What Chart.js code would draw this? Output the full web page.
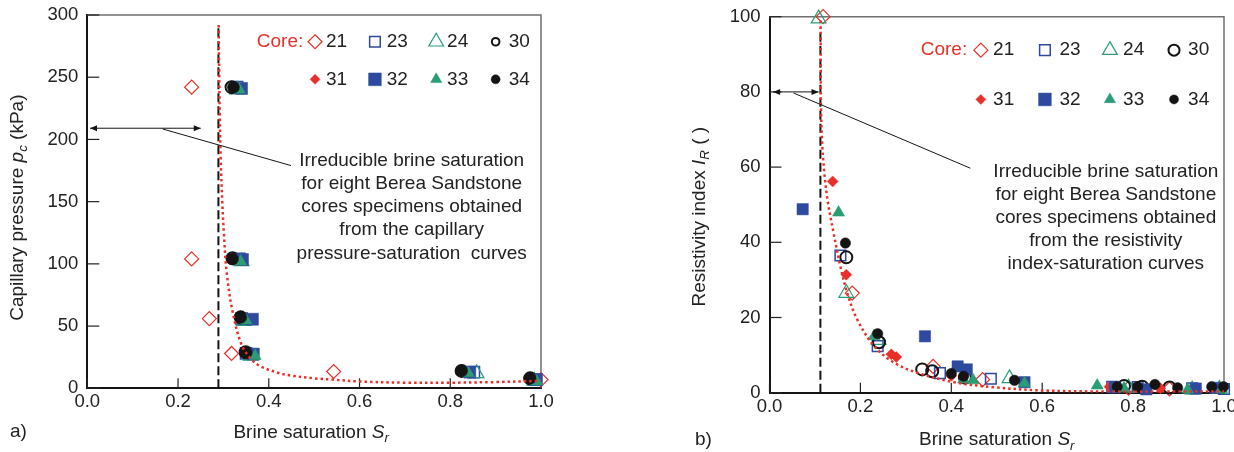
<!DOCTYPE html>
<html>
<head>
<meta charset="utf-8">
<script src="https://cdn.jsdelivr.net/npm/chart.js@4.4.1/dist/chart.umd.min.js"></script>
<style>
  html, body { margin: 0; padding: 0; background: #fff; }
  #wrap { display: flex; width: 1234px; height: 452px; }
  canvas { display: block; }
</style>
</head>
<body>
<div id="wrap">
  <canvas id="chartA" width="617" height="452"></canvas>
  <canvas id="chartB" width="617" height="452"></canvas>
</div>
<script>
// ---- data ----
const coreNames = ['21', '23', '24', '30', '31', '32', '33', '34'];

// a) capillary pressure (kPa) vs brine saturation
const pcCore21 = [[0.23, 242], [0.23, 104], [0.269, 56], [0.318, 28], [0.543, 13.5], [1.0, 7]];
const pcCore23 = [[0.33, 242], [0.335, 104], [0.34, 56], [0.35, 28], [0.852, 13], [0.985, 7]];
const pcCore24 = [[0.33, 240], [0.34, 102], [0.345, 54], [0.36, 26], [0.858, 12], [0.985, 6]];
const pcCore30 = [[0.318, 242], [0.32, 104.5], [0.338, 57], [0.349, 29], [0.825, 14], [0.976, 8]];
const pcCore31 = [[0.322, 242], [0.325, 104], [0.34, 56], [0.352, 28], [0.83, 13.5], [0.985, 7]];
const pcCore32 = [[0.34, 241], [0.342, 103.5], [0.364, 55.5], [0.366, 27.5], [0.843, 13], [0.99, 7]];
const pcCore33 = [[0.335, 240], [0.338, 102], [0.35, 54.5], [0.37, 26], [0.84, 12], [0.99, 5.5]];
const pcCore34 = [[0.322, 242], [0.32, 104], [0.338, 57], [0.35, 28.5], [0.825, 14], [0.976, 8]];
const pcFit = [[0.2895, 292], [0.2905, 260], [0.292, 220], [0.294, 185], [0.2975, 150], [0.301, 125],
  [0.307, 94], [0.32, 62], [0.34, 35], [0.36, 24], [0.38, 18], [0.42, 12.5], [0.446, 10.4], [0.5, 8],
  [0.54, 7], [0.6, 5.5], [0.7, 4.5], [0.8, 4.5], [0.9, 5], [1.0, 6]];
const pcIrreducible = [[0.289, 0], [0.289, 292]];

// b) resistivity index vs brine saturation
const riCore21 = [[0.118, 100], [0.182, 26.5], [0.36, 7], [0.469, 3.5], [0.79, 1.2], [0.88, 1.0]];
const riCore23 = [[0.156, 36.5], [0.238, 12.4], [0.375, 5.2], [0.487, 3.7], [0.754, 1.6], [0.81, 1.5], [0.93, 1.2], [1.0, 1.0]];
const riCore24 = [[0.108, 99.5], [0.169, 26.5], [0.24, 14], [0.528, 3.8], [0.79, 1.3], [0.93, 0.8], [0.99, 1.0]];
const riCore30 = [[0.169, 36], [0.241, 13.4], [0.336, 6.2], [0.358, 5.7], [0.43, 4], [0.78, 1.8], [0.82, 1.6], [0.88, 1.4]];
const riCore31 = [[0.139, 56.2], [0.169, 31.4], [0.268, 10.2], [0.279, 9.5], [0.4, 4.5], [0.748, 1.6], [0.86, 1.2], [0.93, 1.0]];
const riCore32 = [[0.073, 48.8], [0.342, 15], [0.414, 7], [0.434, 6.2], [0.561, 2.8], [0.76, 1.4], [0.829, 0.9], [0.938, 1.1], [0.98, 1.3]];
const riCore33 = [[0.152, 47.9], [0.23, 15], [0.427, 3.5], [0.448, 3.3], [0.561, 2.5], [0.721, 1.9], [0.78, 1.2], [0.92, 0.8], [0.995, 1.0]];
const riCore34 = [[0.167, 39.8], [0.238, 15.7], [0.4, 5.1], [0.427, 4.4], [0.539, 3.3], [0.765, 1.6], [0.81, 1.6], [0.848, 2.2], [0.898, 1.3], [0.973, 1.6], [0.999, 1.6]];
const riFit = [[0.1125, 99], [0.1128, 85], [0.1135, 75], [0.116, 66], [0.121, 58], [0.128, 51], [0.141, 42.5],
  [0.156, 33.6], [0.171, 26.5], [0.193, 19.5], [0.23, 12.4], [0.274, 8], [0.325, 5.3], [0.406, 2.8],
  [0.49, 1.5], [0.6, 0.6], [0.75, 0.3], [0.9, 0.3], [1.0, 0.3]];
const riIrreducible = [[0.112, 0], [0.112, 97]];

const pcNote = ['Irreducible brine saturation', 'for eight Berea Sandstone', 'cores specimens obtained',
  'from the capillary', 'pressure-saturation  curves'];
const riNote = ['Irreducible brine saturation', 'for eight Berea Sandstone', 'cores specimens obtained',
  'from the resistivity', 'index-saturation curves'];

// ---- styles ----
const FONT = '"Liberation Sans", Arial, sans-serif';
const RED = '#e8302a', BLUE = '#2e4a9e', GREEN = '#2a9d74', BLACK = '#141414', TEXT = '#222';

const markerStyle = {
  '21': { shape: 'rectRot', fill: null, stroke: RED, lw: 1.2 },
  '23': { shape: 'rect', fill: null, stroke: BLUE, lw: 1.5 },
  '24': { shape: 'triangle', fill: null, stroke: GREEN, lw: 1.2 },
  '30': { shape: 'circle', fill: null, stroke: BLACK, lw: 2 },
  '31': { shape: 'rectRot', fill: RED, stroke: RED, lw: 0.5 },
  '32': { shape: 'rect', fill: BLUE, stroke: BLUE, lw: 0.5 },
  '33': { shape: 'triangle', fill: GREEN, stroke: GREEN, lw: 0.5 },
  '34': { shape: 'circle', fill: BLACK, stroke: BLACK, lw: 0.5 }
};
const pcSizes = { '21': 7, '23': 8, '24': 8.5, '30': 6, '31': 5.5, '32': 8.5, '33': 7, '34': 6 };
const riSizes = { '21': 7, '23': 7.5, '24': 8.5, '30': 6, '31': 5.5, '32': 8, '33': 7, '34': 5.2 };
const pcLegendSizes = { '21': 7, '23': 7.5, '24': 8.5, '30': 3.8, '31': 5, '32': 9, '33': 6.5, '34': 4.5 };
const riLegendSizes = { '21': 7, '23': 7.5, '24': 8.5, '30': 5.5, '31': 5, '32': 9, '33': 6.5, '34': 4.5 };

function drawMarker(ctx, st, x, y, r) {
  ctx.beginPath();
  if (st.shape === 'circle') {
    ctx.arc(x, y, r, 0, Math.PI * 2);
  } else if (st.shape === 'rect') {
    const h = r * Math.SQRT1_2;
    ctx.rect(x - h, y - h, 2 * h, 2 * h);
  } else if (st.shape === 'rectRot') {
    ctx.moveTo(x, y - r); ctx.lineTo(x + r, y); ctx.lineTo(x, y + r); ctx.lineTo(x - r, y);
    ctx.closePath();
  } else {
    for (let k = 0; k < 3; k++) {
      const a = k * 2 * Math.PI / 3;
      ctx.lineTo(x + Math.sin(a) * r, y - Math.cos(a) * r);
    }
    ctx.closePath();
  }
  if (st.fill) { ctx.fillStyle = st.fill; ctx.fill(); }
  ctx.strokeStyle = st.stroke; ctx.lineWidth = st.lw; ctx.stroke();
}

// text with italic / subscript parts: [text, ''|'i'|'sub']
function drawRich(ctx, parts, x, y, size) {
  let total = 0;
  const segs = parts.map(([t, s]) => {
    const fs = s === 'sub' ? size * 0.7 : size;
    const font = (s ? 'italic ' : '') + fs + 'px ' + FONT;
    ctx.font = font;
    const w = ctx.measureText(t).width;
    total += w;
    return { t, font, w, dy: s === 'sub' ? size * 0.3 : 0 };
  });
  let cx = x - total / 2;
  ctx.textAlign = 'left';
  ctx.textBaseline = 'middle';
  segs.forEach(s => { ctx.font = s.font; ctx.fillText(s.t, cx, y + s.dy); cx += s.w; });
}

function arrowHead(ctx, x, y, dir) {
  ctx.beginPath();
  ctx.moveTo(x, y);
  ctx.lineTo(x - dir * 7, y - 3);
  ctx.lineTo(x - dir * 7, y + 3);
  ctx.closePath();
  ctx.fill();
}

const decorPlugin = {
  id: 'decor',
  beforeDatasetsDraw(chart) {
    const { ctx, chartArea: a, scales: { x, y } } = chart;
    ctx.save();
    ctx.strokeStyle = '#707070';
    ctx.lineWidth = 1.5;
    ctx.beginPath();
    ctx.moveTo(a.left, a.top); ctx.lineTo(a.right, a.top); ctx.lineTo(a.right, a.bottom);
    ctx.stroke();
    ctx.strokeStyle = '#222';
    ctx.lineWidth = 1.2;
    x.ticks.forEach(t => {
      const p = x.getPixelForValue(t.value);
      ctx.beginPath(); ctx.moveTo(p, a.bottom); ctx.lineTo(p, a.bottom - 10); ctx.stroke();
    });
    y.ticks.forEach(t => {
      const p = y.getPixelForValue(t.value);
      ctx.beginPath(); ctx.moveTo(a.left, p); ctx.lineTo(a.left + 12, p); ctx.stroke();
    });
    ctx.restore();
  },
  afterDatasetsDraw(chart, args, o) {
    const { ctx, scales: { x, y } } = chart;
    const px = v => x.getPixelForValue(v), py = v => y.getPixelForValue(v);
    ctx.save();
    ctx.fillStyle = BLACK;
    ctx.strokeStyle = BLACK;
    ctx.lineWidth = 1;

    // double arrow
    const [ax1, ax2, ay] = o.arrow;
    ctx.beginPath(); ctx.moveTo(px(ax1), py(ay)); ctx.lineTo(px(ax2), py(ay)); ctx.stroke();
    arrowHead(ctx, px(ax1), py(ay), -1);
    arrowHead(ctx, px(ax2), py(ay), 1);

    // leader to the note
    const [lx1, ly1, lx2, ly2] = o.leader;
    ctx.beginPath(); ctx.moveTo(px(lx1), py(ly1)); ctx.lineTo(px(lx2), py(ly2)); ctx.stroke();

    // note text
    ctx.fillStyle = TEXT;
    ctx.font = o.noteSize + 'px ' + FONT;
    ctx.textAlign = 'center';
    ctx.textBaseline = 'middle';
    o.note.forEach((line, i) => ctx.fillText(line, px(o.noteX), py(o.noteY[i])));

    // legend
    const lg = o.legend;
    ctx.font = '19px ' + FONT;
    ctx.textAlign = 'right';
    ctx.fillStyle = RED;
    ctx.fillText('Core:', px(lg.coreX), py(lg.rows[0]));
    coreNames.forEach((n, i) => {
      const row = Math.floor(i / 4), col = i % 4;
      const yy = py(lg.rows[row]);
      drawMarker(ctx, markerStyle[n], px(lg.markX[col]), yy, lg.sizes[n]);
      ctx.fillStyle = TEXT;
      ctx.textAlign = 'left';
      ctx.font = '19px ' + FONT;
      ctx.fillText(n, px(lg.textX[col]), yy);
    });
    ctx.restore();
  },
  afterDraw(chart, args, o) {
    const { ctx, chartArea: a } = chart;
    ctx.save();
    ctx.fillStyle = TEXT;
    drawRich(ctx, [['Brine saturation ', ''], ['S', 'i'], ['r', 'sub']],
      (a.left + a.right) / 2 + o.xTitleDx, a.bottom + o.xTitleDy, 19);
    ctx.translate(a.left - 69.5, (a.top + a.bottom) / 2 + o.yTitleDy);
    ctx.rotate(-Math.PI / 2);
    drawRich(ctx, o.yTitle, 0, 0, 19);
    ctx.restore();
    ctx.save();
    ctx.fillStyle = TEXT;
    ctx.font = '19px ' + FONT;
    ctx.textAlign = 'left';
    ctx.textBaseline = 'middle';
    ctx.fillText(o.panel[0], o.panel[1], o.panel[2]);
    ctx.restore();
  }
};

function toXY(arr) { return arr.map(p => ({ x: p[0], y: p[1] })); }

function buildDatasets(cores, sizes, fit, irreducible) {
  const sets = coreNames.map((n, i) => {
    const st = markerStyle[n];
    return {
      label: 'Core ' + n,
      data: toXY(cores[i]),
      pointStyle: st.shape,
      pointRadius: sizes[n],
      pointHoverRadius: sizes[n],
      backgroundColor: st.fill || 'rgba(0,0,0,0)',
      borderColor: st.stroke,
      pointBorderWidth: st.lw,
      borderWidth: st.lw,
      showLine: false,
      clip: false,
      order: 8 - i
    };
  });
  sets.push({
    label: 'fit', data: toXY(fit), showLine: true, pointRadius: 0, borderColor: RED,
    borderWidth: 2.5, borderDash: [2.5, 3], tension: 0.35, order: 0
  });
  sets.push({
    label: 'irreducible', data: toXY(irreducible), showLine: true, pointRadius: 0, borderColor: BLACK,
    borderWidth: 2, borderDash: [9, 4], order: 0
  });
  return sets;
}

function buildOptions(c) {
  const tickFont = { size: 18.5, family: FONT };
  return {
    responsive: false,
    animation: false,
    events: [],
    layout: { padding: c.padding },
    plugins: { legend: { display: false }, tooltip: { enabled: false }, decor: c.decor },
    scales: {
      x: {
        type: 'linear', min: 0, max: 1,
        grid: { display: false, drawTicks: false },
        border: { color: BLACK, width: 2 },
        ticks: { stepSize: 0.2, autoSkip: false, maxRotation: 0, padding: 3, color: TEXT, font: tickFont,
          callback: v => v.toFixed(1) },
        afterFit: s => { s.height = c.xHeight; s.paddingLeft = 0; s.paddingRight = 0; }
      },
      y: {
        type: 'linear', min: 0, max: c.yMax,
        grid: { display: false, drawTicks: false },
        border: { color: BLACK, width: 2 },
        ticks: { stepSize: c.yStep, autoSkip: false, padding: 9, color: TEXT, font: tickFont },
        afterFit: s => { s.width = 87.3; s.paddingTop = 0; s.paddingBottom = 0; }
      }
    }
  };
}

new Chart(document.getElementById('chartA'), {
  type: 'scatter',
  data: { datasets: buildDatasets([pcCore21, pcCore23, pcCore24, pcCore30, pcCore31, pcCore32, pcCore33, pcCore34],
    pcSizes, pcFit, pcIrreducible) },
  options: buildOptions({
    padding: { left: 0, top: 15, right: 76, bottom: 0 },
    xHeight: 63.7, yMax: 300, yStep: 50,
    decor: {
      arrow: [0.006, 0.25, 209],
      leader: [0.166, 208.4, 0.449, 179],
      note: pcNote, noteX: 0.715, noteY: [182.7, 164.2, 145.5, 127.2, 108.5], noteSize: 19,
      legend: { coreX: 0.476, rows: [278.5, 248.3], markX: [0.502, 0.634, 0.769, 0.9],
        textX: [0.526, 0.66, 0.793, 0.929], sizes: pcLegendSizes },
      xTitleDx: -3, xTitleDy: 44,
      yTitle: [['Capillary pressure ', ''], ['p', 'i'], ['c', 'sub'], [' (kPa)', '']], yTitleDy: 6,
      panel: ['a)', 10, 432]
    }
  }),
  plugins: [decorPlugin]
});

new Chart(document.getElementById('chartB'), {
  type: 'scatter',
  data: { datasets: buildDatasets([riCore21, riCore23, riCore24, riCore30, riCore31, riCore32, riCore33, riCore34],
    riSizes, riFit, riIrreducible) },
  options: buildOptions({
    padding: { left: 65.2, top: 16.7, right: 10, bottom: 0 },
    xHeight: 59.3, yMax: 100, yStep: 20,
    decor: {
      arrow: [0.008, 0.108, 80],
      leader: [0.053, 79.7, 0.442, 59.7],
      note: riNote, noteX: 0.74, noteY: [58.8, 52.7, 46.5, 40.5, 34.3], noteSize: 19,
      legend: { coreX: 0.435, rows: [91.1, 78], markX: [0.465, 0.606, 0.749, 0.89],
        textX: [0.492, 0.638, 0.778, 0.921], sizes: riLegendSizes },
      xTitleDx: 0, xTitleDy: 47.5,
      yTitle: [['Resistivity index ', ''], ['I', 'i'], ['R', 'sub'], [' ( )', '']], yTitleDy: 12,
      panel: ['b)', 78, 440]
    }
  }),
  plugins: [decorPlugin]
});
</script>
</body>
</html>
